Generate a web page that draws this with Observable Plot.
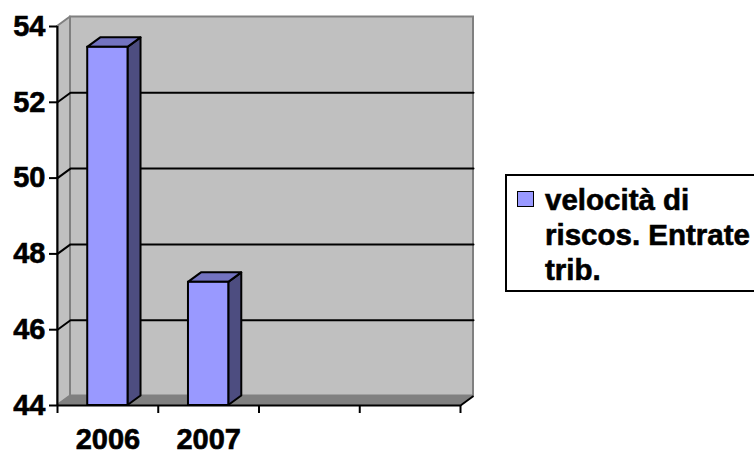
<!DOCTYPE html>
<html>
<head>
<meta charset="utf-8">
<script src="https://cdn.jsdelivr.net/npm/d3@7"></script>
<script src="https://cdn.jsdelivr.net/npm/@observablehq/plot@0.6"></script>
<style>
  html, body { margin: 0; padding: 0; background: #fff; }
  #wrap { position: relative; width: 754px; height: 454px; font-family: "Liberation Sans", Arial, sans-serif; }
  #legend { position: absolute; left: 505px; top: 174px; width: 247px; height: 114px; border: 2px solid #000; background: #fff; box-sizing: content-box; }
  #legend .sw { position: absolute; left: 10px; top: 15px; width: 15px; height: 14px; background: #9999ff; border: 1.5px solid #000; }
  #legend .ln { position: absolute; left: 38px; font-weight: bold; font-size: 29.5px; line-height: 28px; white-space: nowrap; color: #000; -webkit-text-stroke: 0.6px #000; }
  #chart svg text { stroke: #000; stroke-width: 0.6px; }
</style>
</head>
<body>
<div id="wrap"><div id="chart"></div><div id="legend"></div></div>
<script>
// ---- data ----
const categories = ["2006", "2007"];
const values = [53.45, 47.25];
const slotCount = 4;                 // category slots on the x axis (2 empty)
const yTicks = [44, 46, 48, 50, 52, 54];
const gridValues = [46, 48, 50, 52];
const seriesName = "velocità di riscos. Entrate trib.";
const legendLines = ["velocità di", "riscos. Entrate", "trib."];

// ---- layout ----
const W = 754, H = 454;
const mL = 57, mR = 294, mT = 26, mB = 49;
const yMin = 44, yMax = 54;
const pxPerX = (W - mL - mR) / slotCount;
const pxPerY = (H - mT - mB) / (yMax - yMin);
const DX = 13 / pxPerX;      // depth offset in x units
const DY = 9.5 / pxPerY;     // depth offset in y units
const barL = 0.3, barR = 0.7;

const bars = categories.map((c, i) => ({id: i, cat: c, v: values[i], x1: i + barL, x2: i + barR}));
const sides = bars.flatMap(b => [
  {id: b.id, x: b.x2, y1: yMin, y2: b.v},
  {id: b.id, x: b.x2 + DX, y1: yMin + DY, y2: b.v + DY}
]);
const tops = bars.flatMap(b => [
  {id: b.id, y: b.v, x1: b.x1, x2: b.x2},
  {id: b.id, y: b.v + DY, x1: b.x1 + DX, x2: b.x2 + DX}
]);
const grid = gridValues.flatMap(g => [
  {g, x: 0, y: g},
  {g, x: DX, y: g + DY},
  {g, x: slotCount + DX, y: g + DY}
]);

const frontCol = "#9999ff", sideCol = "#4d4d80", topCol = "#7373c0";
const wall = "#c0c0c0", edge = "#808080";

const chart = Plot.plot({
  width: W, height: H,
  marginLeft: mL, marginRight: mR, marginTop: mT, marginBottom: mB,
  x: {domain: [0, slotCount], label: null},
  y: {domain: [yMin, yMax], label: null},
  style: {fontFamily: "Liberation Sans, Arial, sans-serif", fontWeight: "bold", fontSize: "29px", color: "#000", background: "#fff"},
  marks: [
    Plot.rect([0], {x1: DX, x2: slotCount + DX, y1: yMin + DY, y2: yMax + DY, fill: wall, stroke: edge, strokeWidth: 2}),
    Plot.areaY([{x: 0, y1: yMin, y2: yMax}, {x: DX, y1: yMin + DY, y2: yMax + DY}], {x: "x", y1: "y1", y2: "y2", fill: wall, stroke: edge, strokeWidth: 2}),
    Plot.areaX([{y: yMin, x1: 0, x2: slotCount}, {y: yMin + DY, x1: DX, x2: slotCount + DX}], {y: "y", x1: "x1", x2: "x2", fill: edge, stroke: edge, strokeWidth: 1}),
    Plot.line(grid, {x: "x", y: "y", z: "g", stroke: "#000", strokeWidth: 2}),
    Plot.areaY(sides, {x: "x", y1: "y1", y2: "y2", z: "id", fill: sideCol, stroke: "#000", strokeWidth: 2, strokeLinejoin: "round"}),
    Plot.areaX(tops, {y: "y", x1: "x1", x2: "x2", z: "id", fill: topCol, stroke: "#000", strokeWidth: 2, strokeLinejoin: "round"}),
    Plot.rect(bars, {x1: "x1", x2: "x2", y1: yMin, y2: "v", fill: frontCol, stroke: "#000", strokeWidth: 2}),
    Plot.link([0], {x1: slotCount, y1: yMin, x2: slotCount + DX, y2: yMin + DY, stroke: "#000", strokeWidth: 2}),
    Plot.ruleX([0], {y1: yMin, y2: yMax, stroke: "#000", strokeWidth: 2}),
    Plot.ruleY([yMin], {x1: 0, x2: slotCount, stroke: "#000", strokeWidth: 2}),
    Plot.axisY({ticks: yTicks, tickSize: 8, tickPadding: 4, fontSize: 29, fontWeight: "bold", strokeWidth: 2, label: null}),
    Plot.axisX({ticks: d3.range(slotCount + 1), tickSize: 8, tickFormat: () => "", strokeWidth: 2, label: null}),
    Plot.text(bars, {x: d => d.id + 0.5, y: yMin, text: "cat", dy: 34, fontSize: 29, fontWeight: "bold", fill: "#000"})
  ]
});
document.getElementById("chart").appendChild(chart);

const lg = document.getElementById("legend");
const sw = document.createElement("div"); sw.className = "sw"; sw.title = seriesName; lg.appendChild(sw);
legendLines.forEach((t, i) => {
  const d = document.createElement("div");
  d.className = "ln";
  d.style.top = (10 + i * 35) + "px";
  d.textContent = t;
  lg.appendChild(d);
});
</script>
</body>
</html>
